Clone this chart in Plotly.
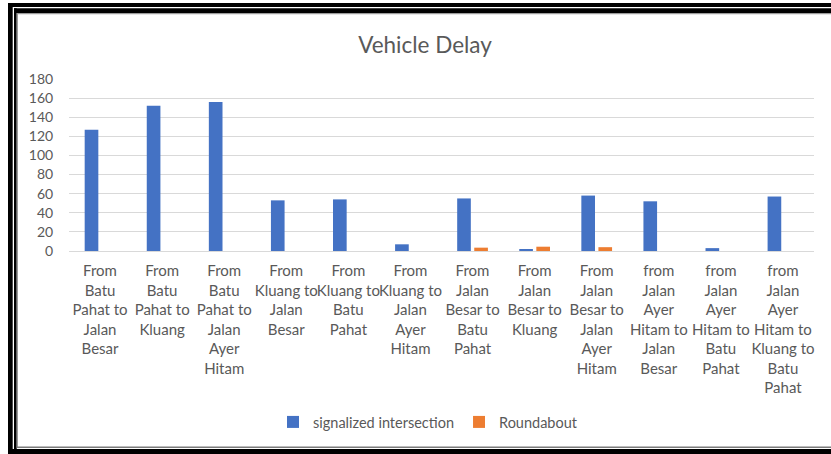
import plotly.graph_objects as go

categories = [
    "From Batu Pahat to Jalan Besar",
    "From Batu Pahat to Kluang",
    "From Batu Pahat to Jalan Ayer Hitam",
    "From Kluang to Jalan Besar",
    "From Kluang to Batu Pahat",
    "From Kluang to Jalan Ayer Hitam",
    "From Jalan Besar to Batu Pahat",
    "From Jalan Besar to Kluang",
    "From Jalan Besar to Jalan Ayer Hitam",
    "from Jalan Ayer Hitam to Jalan Besar",
    "from Jalan Ayer Hitam to Batu Pahat",
    "from Jalan Ayer Hitam to Kluang to Batu Pahat",
]
tick_labels = [
    "From<br>Batu<br>Pahat to<br>Jalan<br>Besar",
    "From<br>Batu<br>Pahat to<br>Kluang",
    "From<br>Batu<br>Pahat to<br>Jalan<br>Ayer<br>Hitam",
    "From<br>Kluang to<br>Jalan<br>Besar",
    "From<br>Kluang to<br>Batu<br>Pahat",
    "From<br>Kluang to<br>Jalan<br>Ayer<br>Hitam",
    "From<br>Jalan<br>Besar to<br>Batu<br>Pahat",
    "From<br>Jalan<br>Besar to<br>Kluang",
    "From<br>Jalan<br>Besar to<br>Jalan<br>Ayer<br>Hitam",
    "from<br>Jalan<br>Ayer<br>Hitam to<br>Jalan<br>Besar",
    "from<br>Jalan<br>Ayer<br>Hitam to<br>Batu<br>Pahat",
    "from<br>Jalan<br>Ayer<br>Hitam to<br>Kluang to<br>Batu<br>Pahat",
]
signalized = [127, 152, 156, 53, 54, 7, 55, 2, 58, 52, 3, 57]
roundabout = [0, 0, 0, 0, 0, 0, 3.5, 4.5, 4, 0, 0, 0]
y_ticks = [0, 20, 40, 60, 80, 100, 120, 140, 160, 180]

W, H = 831, 454
L, R, T, B = 69, 814, 79, 251  # plot area pixels

def px(x):
    return (x - L) / (R - L)

def py(y):
    return (B - y) / (B - T)

FONT = "Lato"
GREY = "#595959"

fig = go.Figure()
fig.add_trace(go.Bar(name="signalized intersection", x=categories, y=signalized,
                     marker=dict(color="#4472C4", line=dict(width=0))))
fig.add_trace(go.Bar(name="Roundabout", x=categories, y=roundabout,
                     marker=dict(color="#ED7D31", line=dict(width=0))))

shapes = []
def rect(x0, y0, x1, y1, color="black"):
    shapes.append(dict(type="rect", xref="paper", yref="paper",
                       x0=px(x0), x1=px(x1), y0=py(y1), y1=py(y0),
                       fillcolor=color, line=dict(width=0), layer="above"))

# double frame top / left / bottom
rect(8, 3, W + 5, 7)
rect(14, 8.3, W + 5, 13)
rect(16.7, 13, W + 5, 14.2, "#9a9a9a")
rect(8, 3, 12.7, H + 5)
rect(14, 8.3, 16.7, H + 5)
rect(16.7, 13, 18, 447, "#9a9a9a")
rect(16.7, 446.5, W + 5, 448, "#7a7a7a")
rect(12, 449, W + 5, H + 5)

fig.update_layout(
    width=W, height=H,
    margin=dict(l=L, r=W - R, t=T, b=H - B, pad=0),
    paper_bgcolor="white", plot_bgcolor="white",
    barmode="group", bargap=0.45, bargroupgap=0.2,
    font=dict(family=FONT, color=GREY, size=13),
    title=dict(text="Vehicle Delay", x=px(425), xref="paper", xanchor="center",
               y=1 - 45 / H, yanchor="middle", font=dict(size=22.5, color=GREY, family=FONT)),
    legend=dict(orientation="h", x=px(428), xanchor="center", y=py(422), yanchor="middle",
                font=dict(size=14.5, color=GREY, family=FONT), itemwidth=30,
                traceorder="normal"),
    shapes=shapes,
    showlegend=True,
)
fig.update_yaxes(range=[0, 180], tickvals=y_ticks, showgrid=True, gridcolor="#d9d9d9",
                 gridwidth=1, zeroline=False, showline=False, ticks="outside", ticklen=12,
                 tickcolor="rgba(0,0,0,0)", tickfont=dict(size=14, color=GREY))
fig.update_xaxes(tickvals=categories, ticktext=tick_labels, showline=True, linecolor="#d9d9d9",
                 linewidth=1, ticks="outside", ticklen=6, tickcolor="rgba(0,0,0,0)",
                 tickfont=dict(size=15, color=GREY), tickangle=0)

fig.write_html("out.html", config={"displayModeBar": False},
               post_script="document.body.style.margin='0';document.body.style.overflow='hidden';")
